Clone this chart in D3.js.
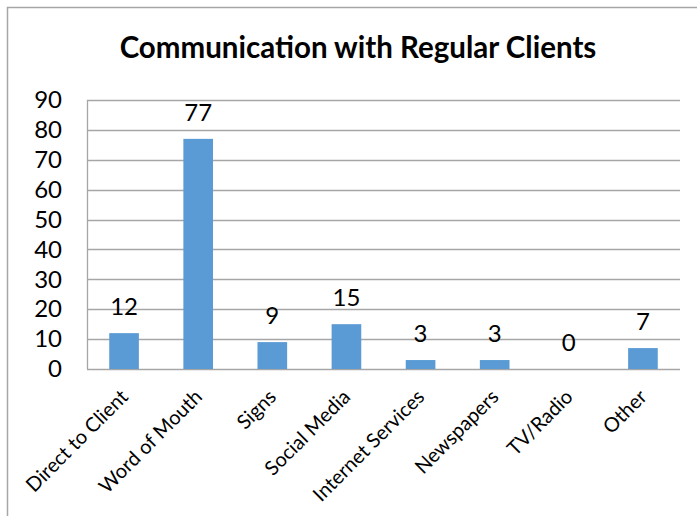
<!DOCTYPE html>
<html>
<head>
<meta charset="utf-8">
<script src="https://cdn.jsdelivr.net/npm/d3@7"></script>
<style>
  html, body { margin: 0; padding: 0; background: #fff; }
  svg { display: block; }
  text { font-family: Lato, "Open Sans", sans-serif; fill: #000; }
</style>
</head>
<body>
<script>
// Chart data
const categories = ["Direct to Client", "Word of Mouth", "Signs", "Social Media",
                    "Internet Services", "Newspapers", "TV/Radio", "Other"];
const values = [12, 77, 9, 15, 3, 3, 0, 7];
const yTicks = [0, 10, 20, 30, 40, 50, 60, 70, 80, 90];
const title = "Communication with Regular Clients";

const W = 698, H = 517;
const plot = { left: 87, right: 680, top: 100, bottom: 369 };

const svg = d3.select("body").append("svg")
  .attr("width", W).attr("height", H);

// Outer chart frame (top and left edges visible)
svg.append("path")
  .attr("d", `M7.5,516 L7.5,7.5 L697,7.5`)
  .attr("fill", "none").attr("stroke", "#a6a6a6").attr("stroke-width", 1.5);

// Title
svg.append("text")
  .attr("x", 358).attr("y", 58)
  .attr("text-anchor", "middle")
  .attr("font-weight", "bold")
  .attr("font-size", 29.5)
  .text(title);

const x = d3.scaleBand().domain(categories)
  .range([plot.left, plot.right]).paddingInner(0.6).paddingOuter(0.3);
const y = d3.scaleLinear().domain([0, 90]).range([plot.bottom, plot.top]);

// Horizontal gridlines
svg.append("g").selectAll("line").data(yTicks).join("line")
  .attr("x1", plot.left).attr("x2", plot.right)
  .attr("y1", d => Math.round(y(d)) + 0.5).attr("y2", d => Math.round(y(d)) + 0.5)
  .attr("stroke", "#a6a6a6").attr("stroke-width", 1.3);

// Vertical axis line
svg.append("line")
  .attr("x1", plot.left + 0.5).attr("x2", plot.left + 0.5)
  .attr("y1", plot.top).attr("y2", plot.bottom)
  .attr("stroke", "#a6a6a6").attr("stroke-width", 1.3);

// Y axis labels
const yAxis = d3.axisLeft(y).tickValues(yTicks).tickSize(0).tickPadding(25);
const gy = svg.append("g").attr("transform", `translate(${plot.left},0)`).call(yAxis);
gy.select(".domain").remove();
gy.selectAll("text").attr("font-size", 24).attr("font-family", "Lato, sans-serif").attr("fill", "#000");

// Bars
svg.append("g").selectAll("rect").data(values).join("rect")
  .attr("x", (d, i) => x(categories[i]))
  .attr("width", x.bandwidth())
  .attr("y", d => y(d))
  .attr("height", d => y(0) - y(d))
  .attr("fill", "#5b9bd5");

// Value labels
svg.append("g").selectAll("text").data(values).join("text")
  .attr("x", (d, i) => x(categories[i]) + x.bandwidth() / 2)
  .attr("y", d => y(d) - 18)
  .attr("text-anchor", "middle")
  .attr("font-size", 24)
  .text(d => d);

// Category labels, rotated
const xAxis = d3.axisBottom(x).tickSize(0).tickPadding(0);
const gx = svg.append("g").attr("transform", `translate(0,${plot.bottom})`).call(xAxis);
gx.select(".domain").remove();
gx.selectAll("text")
  .attr("font-size", 20).attr("font-family", "Lato, sans-serif").attr("fill", "#000")
  .attr("text-anchor", "end")
  .attr("dy", "0.72em")
  .attr("y", 0)
  .attr("transform", "translate(-5,19) rotate(-45)");
</script>
</body>
</html>
